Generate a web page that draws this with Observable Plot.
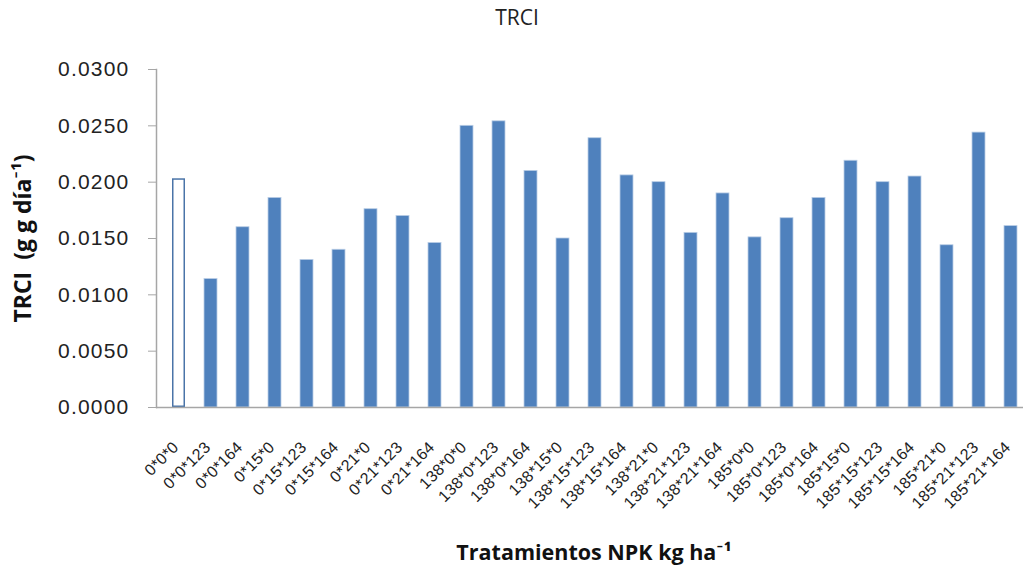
<!DOCTYPE html>
<html><head><meta charset="utf-8">
<script src="https://cdn.jsdelivr.net/npm/d3@7"></script>
<script src="https://cdn.jsdelivr.net/npm/@observablehq/plot@0.6"></script>
<style>
body{margin:0;background:#fff;}
svg g[aria-label="y-axis tick label"] text{letter-spacing:1.2px}
svg g[aria-label="x-axis tick label"] text{letter-spacing:0.3px}
</style></head><body><div id="chart"></div>
<script>
const treatments = ["0*0*0","0*0*123","0*0*164","0*15*0","0*15*123","0*15*164","0*21*0","0*21*123","0*21*164",
  "138*0*0","138*0*123","138*0*164","138*15*0","138*15*123","138*15*164","138*21*0","138*21*123","138*21*164",
  "185*0*0","185*0*123","185*0*164","185*15*0","185*15*123","185*15*164","185*21*0","185*21*123","185*21*164"];
const trci = [0.0203,0.0114,0.0160,0.0186,0.0131,0.0140,0.0176,0.0170,0.0146,
  0.0250,0.0254,0.0210,0.0150,0.0239,0.0206,0.0200,0.0155,0.0190,
  0.0151,0.0168,0.0186,0.0219,0.0200,0.0205,0.0144,0.0244,0.0161];
const controlTreatment = "0*0*0";
const yTicks = [0, 0.005, 0.010, 0.015, 0.020, 0.025, 0.030];
const titleText = "TRCI";
const yLabel = "TRCI  (g g día⁻¹)";
const xLabel = "Tratamientos NPK kg ha⁻¹";

const data = treatments.map((t, i) => ({treatment: t, trci: trci[i]}));
const labelFont = "'Open Sans', Lato, sans-serif";

const chart = Plot.plot({
  width: 1023, height: 565,
  marginLeft: 156, marginRight: 0, marginTop: 69, marginBottom: 158,
  style: {fontFamily: "'Liberation Sans', Arial, sans-serif", background: "#fff", color: "#222", overflow: "visible"},
  x: {domain: treatments, range: [156.4, 1032.7], paddingInner: 0.6, paddingOuter: 0.3, label: null},
  y: {domain: [0, 0.03], label: null},
  marks: [
    Plot.barY(data.filter(d => d.treatment !== controlTreatment), {x: "treatment", y: "trci", fill: "#4F81BD", stroke: "#b9cde5", strokeWidth: 0.8}),
    Plot.barY(data.filter(d => d.treatment === controlTreatment), {x: "treatment", y: "trci", fill: "#fff", stroke: "#4a74a8", strokeWidth: 1.5, inset: 0.75}),
    Plot.ruleY([0], {stroke: "#a6a6a6", strokeWidth: 1.5}),
    Plot.frame({anchor: "left", stroke: "#a6a6a6", strokeWidth: 1.5}),
    Plot.axisY({ticks: yTicks, tickFormat: d => d.toFixed(4), tickSize: 8, tickPadding: 19, fontSize: 21, stroke: "#a6a6a6", label: null}),
    Plot.axisX({tickRotate: -45, tickSize: 0, tickPadding: 37, dx: -3, fontSize: 16, label: null}),
    Plot.text([titleText], {frameAnchor: "top", dx: -73, dy: -59, fontSize: 21, fontFamily: labelFont, fill: "#222"}),
    Plot.text([yLabel], {frameAnchor: "left", textAnchor: "middle", rotate: -90, dx: -133, fontSize: 23, fontWeight: "bold", fontFamily: labelFont, fill: "#111"}),
    Plot.text([xLabel], {frameAnchor: "bottom", dx: 4, dy: 152, fontSize: 21.5, fontWeight: "bold", fontFamily: labelFont, fill: "#111"})
  ]
});
document.getElementById("chart").append(chart);
</script></body></html>
